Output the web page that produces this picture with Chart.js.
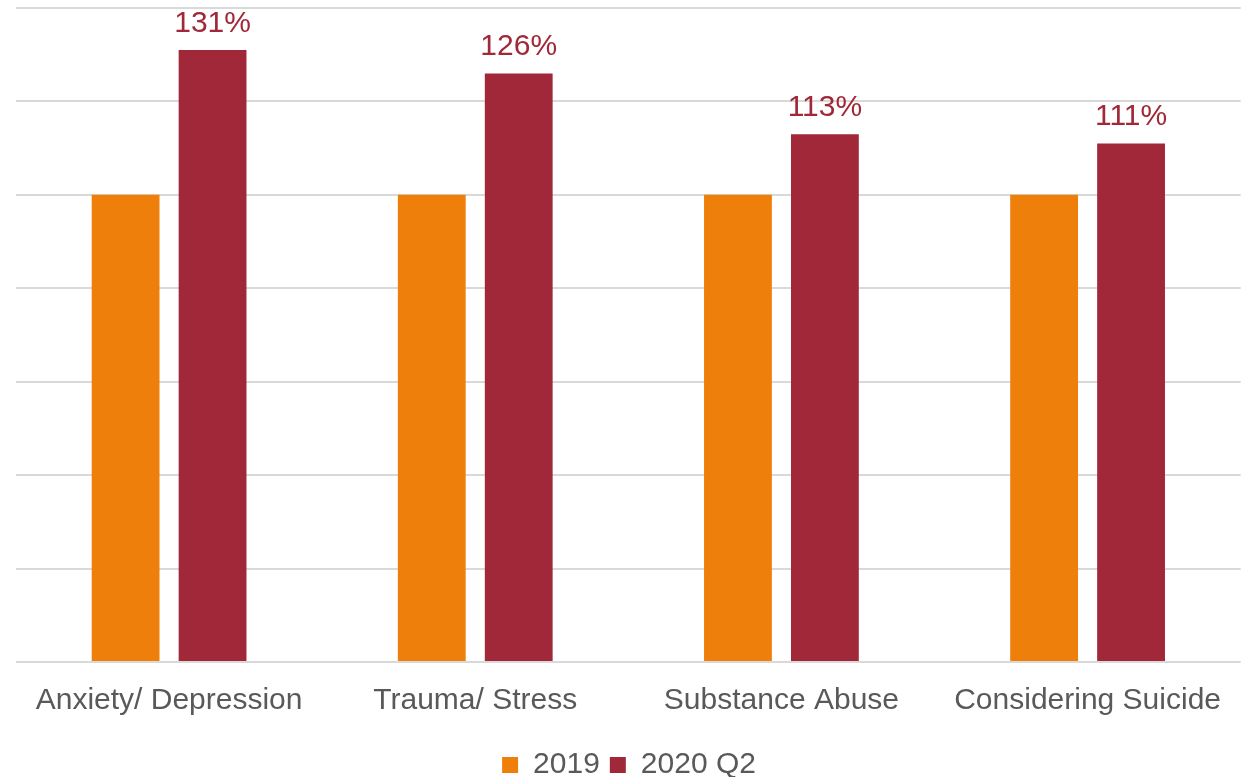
<!DOCTYPE html>
<html>
<head>
<meta charset="utf-8">
<script src="https://cdn.jsdelivr.net/npm/chart.js@4.4.0/dist/chart.umd.min.js"></script>
<style>
  html, body { margin: 0; padding: 0; background: #fff; overflow: hidden; }
  /* a bit taller than the window so the legend's bottom padding falls off-screen */
  #wrap { width: 1242px; height: 790px; }
</style>
</head>
<body>
<div id="wrap"><canvas id="barChart"></canvas></div>
<script>
const categories = ["Anxiety/ Depression", "Trauma/ Stress", "Substance Abuse", "Considering Suicide"];
const values2019 = [100, 100, 100, 100];
const values2020 = [131, 126, 113, 111];
const seriesNames = ["2019", "2020 Q2"];

const orange = "#ef7f0b";
const maroon = "#a02838";
const fontName = "'Liberation Sans', Arial, sans-serif";

// labels only on the 2020 bars
const topLabels = {
  id: "topLabels",
  afterDatasetsDraw(chart) {
    const ctx = chart.ctx;
    const meta = chart.getDatasetMeta(1);
    ctx.save();
    ctx.font = "30px " + fontName;
    ctx.fillStyle = maroon;
    ctx.textAlign = "center";
    ctx.textBaseline = "alphabetic";
    meta.data.forEach(function (bar, i) {
      ctx.fillText(values2020[i] + "%", bar.x, bar.y - 18);
    });
    ctx.restore();
  },
};

const ctx = document.getElementById("barChart").getContext("2d");
new Chart(ctx, {
  type: "bar",
  data: {
    labels: categories,
    datasets: [
      {
        label: seriesNames[0],
        data: values2019,
        backgroundColor: orange,
        categoryPercentage: 0.568,
        barPercentage: 0.78,
      },
      {
        label: seriesNames[1],
        data: values2020,
        backgroundColor: maroon,
        categoryPercentage: 0.568,
        barPercentage: 0.78,
      },
    ],
  },
  options: {
    responsive: true,
    maintainAspectRatio: false,
    animation: false,
    layout: {
      padding: { left: 16, right: 0, top: 8, bottom: 0 },
    },
    plugins: {
      legend: {
        display: true,
        position: "bottom",
        labels: {
          boxWidth: 16,
          boxHeight: 16,
          color: "#595959",
          padding: 10,
          font: { size: 30, family: fontName },
        },
      },
      tooltip: { enabled: false },
    },
    scales: {
      x: {
        grid: { display: false, drawTicks: false },
        border: { display: false },
        ticks: {
          color: "#595959",
          padding: 21,
          maxRotation: 0,
          font: { size: 30, family: fontName },
        },
      },
      y: {
        min: 0,
        max: 140,
        grid: { color: "#d9d9d9", lineWidth: 2, drawTicks: false },
        border: { display: false },
        ticks: { display: false, stepSize: 20 },
      },
    },
  },
  plugins: [topLabels],
});
</script>
</body>
</html>
